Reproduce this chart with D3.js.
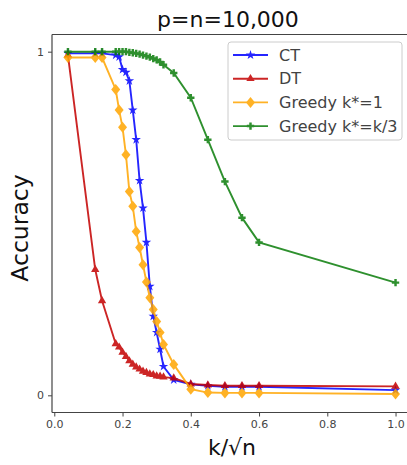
<!DOCTYPE html>
<html>
<head>
<meta charset="utf-8">
<script src="https://cdn.jsdelivr.net/npm/d3@7"></script>
<style>
  body { margin: 0; background: #fff; }
  svg { font-family: "DejaVu Sans", sans-serif; }
</style>
</head>
<body>
<svg id="chart" width="407" height="465"></svg>
<script>
// k / sqrt(n) grid
const kRatio = [0.04, 0.12, 0.14, 0.18, 0.19, 0.20, 0.21, 0.22, 0.23, 0.24, 0.25,
  0.26, 0.27, 0.28, 0.29, 0.30, 0.31, 0.32, 0.35, 0.40, 0.45, 0.50, 0.55, 0.60, 1.00];

const ct = [0.995, 0.995, 0.995, 0.99, 0.985, 0.948, 0.94, 0.915, 0.83, 0.744, 0.625,
  0.545, 0.445, 0.317, 0.23, 0.183, 0.134, 0.084, 0.045, 0.032, 0.028, 0.025, 0.025, 0.025, 0.015];

const dt = [0.99, 0.366, 0.275, 0.15, 0.14, 0.125, 0.113, 0.10, 0.09, 0.082, 0.076,
  0.07, 0.066, 0.062, 0.06, 0.056, 0.055, 0.053, 0.05, 0.033, 0.03, 0.028, 0.028, 0.028, 0.026];

const greedy1 = [0.983, 0.983, 0.983, 0.89, 0.83, 0.78, 0.70, 0.593, 0.55, 0.477, 0.43,
  0.38, 0.33, 0.284, 0.25, 0.215, 0.183, 0.148, 0.09, 0.018, 0.008, 0.007, 0.007, 0.007, 0.004];

const greedyK3 = [1.0, 1.0, 1.0, 1.0, 1.0, 1.0, 1.0, 0.998, 0.997, 0.995, 0.993,
  0.99, 0.987, 0.984, 0.98, 0.976, 0.97, 0.962, 0.938, 0.866, 0.744, 0.622, 0.517, 0.445, 0.328];

const seriesNames = ["CT", "DT", "Greedy k*=1", "Greedy k*=k/3"];
const xTicks = [0, 0.2, 0.4, 0.6, 0.8, 1.0];
const yTicks = [0, 1];

const series = [
  { name: seriesNames[0], values: ct, color: "#0000ff", marker: "star" },
  { name: seriesNames[1], values: dt, color: "#c40000", marker: "triangle" },
  { name: seriesNames[2], values: greedy1, color: "#ffa500", marker: "diamond" },
  { name: seriesNames[3], values: greedyK3, color: "#0a7d0a", marker: "plus" }
];

const svg = d3.select("#chart");
const plotLeft = 52, plotTop = 34.5, plotRight = 412.6, plotBottom = 412.5;

const x = d3.scaleLinear().domain([-0.0067, 1.05]).range([plotLeft, plotRight]);
const y = d3.scaleLinear().domain([-0.05, 1.05]).range([plotBottom, plotTop]);

function markerPath(type) {
  if (type === "diamond") {
    return "M0,-5.5L4.5,0L0,5.5L-4.5,0Z";
  }
  const sym = {
    star: d3.symbol(d3.symbolStar, 28),
    triangle: d3.symbol(d3.symbolTriangle, 30),
    plus: d3.symbol(d3.symbolCross, 30)
  }[type];
  return sym();
}

// spines
svg.append("line").attr("x1", plotLeft).attr("x2", plotLeft).attr("y1", plotTop).attr("y2", plotBottom)
  .attr("stroke", "#444").attr("stroke-width", 1.2);
svg.append("line").attr("x1", plotLeft).attr("x2", plotRight).attr("y1", plotBottom).attr("y2", plotBottom)
  .attr("stroke", "#444").attr("stroke-width", 1.2);
svg.append("line").attr("x1", plotLeft).attr("x2", plotRight).attr("y1", plotTop).attr("y2", plotTop)
  .attr("stroke", "#444").attr("stroke-width", 1.2);

// axes
const xAxis = svg.append("g").attr("transform", `translate(0,${plotBottom})`)
  .call(d3.axisBottom(x).tickValues(xTicks).tickFormat(d3.format(".1f")).tickSize(4).tickPadding(4));
const yAxis = svg.append("g").attr("transform", `translate(${plotLeft},0)`)
  .call(d3.axisLeft(y).tickValues(yTicks).tickFormat(d3.format("d")).tickSize(4).tickPadding(4));
[xAxis, yAxis].forEach(g => {
  g.select(".domain").remove();
  g.selectAll(".tick line").attr("stroke", "#444");
  g.selectAll(".tick text").attr("fill", "#444").style("font-size", "11px")
    .style("font-family", "DejaVu Sans, sans-serif");
});

// lines and markers
const line = d3.line().x((d, i) => x(kRatio[i])).y(d => y(d));
series.forEach(s => {
  const g = svg.append("g").attr("opacity", 0.85);
  g.append("path").datum(s.values).attr("d", line)
    .attr("fill", "none").attr("stroke", s.color).attr("stroke-width", 1.9);
  g.selectAll("path.m").data(s.values).join("path").attr("class", "m")
    .attr("d", markerPath(s.marker))
    .attr("transform", (d, i) => `translate(${x(kRatio[i])},${y(d)})`)
    .attr("fill", s.color);
});

// title and labels
svg.append("text").attr("x", 228).attr("y", 27).attr("text-anchor", "middle")
  .style("font-size", "22px").attr("fill", "#111").text("p=n=10,000");
svg.append("text").attr("x", 232).attr("y", 455).attr("text-anchor", "middle")
  .style("font-size", "22px").attr("fill", "#111").text("k/\u221an");
svg.append("text").attr("transform", "translate(28,228) rotate(-90)").attr("text-anchor", "middle")
  .style("font-size", "23.5px").attr("fill", "#111").text("Accuracy");

// legend
const legend = svg.append("g").attr("transform", "translate(228,42)");
legend.append("rect").attr("width", 174).attr("height", 98).attr("rx", 3)
  .attr("fill", "#fff").attr("fill-opacity", 0.85).attr("stroke", "#ccc");
series.forEach((s, i) => {
  const row = legend.append("g").attr("transform", `translate(0,${13 + i * 23.7})`)
    .attr("opacity", 0.85);
  row.append("line").attr("x1", 5).attr("x2", 40).attr("stroke", s.color).attr("stroke-width", 1.9);
  row.append("path").attr("d", markerPath(s.marker)).attr("transform", "translate(22.5,0)")
    .attr("fill", s.color);
  row.append("text").attr("x", 51).attr("y", 0).attr("dy", "0.35em")
    .style("font-size", "16px").attr("fill", "#222").text(s.name);
});
</script>
</body>
</html>
